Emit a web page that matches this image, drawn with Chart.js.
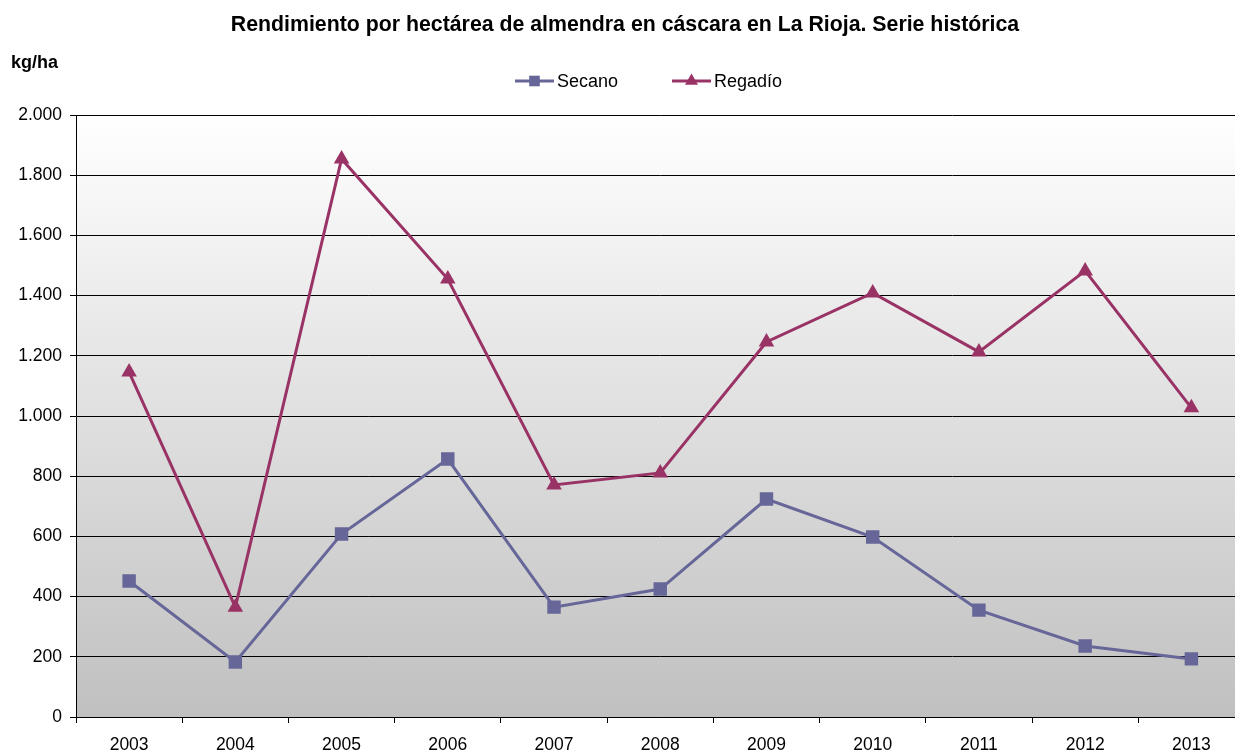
<!DOCTYPE html>
<html>
<head>
<meta charset="utf-8">
<script src="https://cdn.jsdelivr.net/npm/chart.js@4"></script>
<style>
  html, body { margin: 0; padding: 0; background: #fff; overflow: hidden; }
  #wrap { width: 1235px; height: 751px; overflow: hidden; }
</style>
</head>
<body>
<div id="wrap"><canvas id="chart" width="1254" height="772"></canvas></div>
<script>
// Rendimiento por hectárea de almendra en cáscara - La Rioja
const years = ['2003', '2004', '2005', '2006', '2007', '2008', '2009', '2010', '2011', '2012', '2013'];
const secano = [452, 183, 608, 857, 365, 425, 724, 598, 355, 236, 193];
const regadio = [1146, 365, 1854, 1455, 771, 811, 1246, 1409, 1213, 1482, 1027];

const SECANO_COLOR = '#666699';
const REGADIO_COLOR = '#993366';
const FONT = '"Liberation Sans", Arial, sans-serif';

const fmt = v => String(v).replace(/\B(?=(\d{3})+(?!\d))/g, '.');

// gradient plot background + title, unit label and legend
const decor = {
    id: 'decor',
    beforeDraw(chart) {
        const { ctx, chartArea: a } = chart;
        const g = ctx.createLinearGradient(0, a.top, 0, a.bottom);
        g.addColorStop(0, '#ffffff');
        g.addColorStop(1, '#c0c0c0');
        ctx.save();
        ctx.fillStyle = g;
        ctx.fillRect(a.left, a.top, a.right - a.left, a.bottom - a.top);
        ctx.restore();
    },
    afterDraw(chart) {
        const { ctx } = chart;
        ctx.save();
        ctx.fillStyle = '#000';
        ctx.textBaseline = 'middle';
        ctx.font = 'bold 21.3px ' + FONT;
        ctx.textAlign = 'center';
        ctx.fillText('Rendimiento por hectárea de almendra en cáscara en La Rioja. Serie histórica', 625, 25);
        ctx.textAlign = 'left';
        ctx.font = 'bold 18px ' + FONT;
        ctx.fillText('kg/ha', 11, 63);

        const items = [
            { x: 515, text: 'Secano', color: SECANO_COLOR, style: 'rect', r: 7.5 },
            { x: 672, text: 'Regadío', color: REGADIO_COLOR, style: 'triangle', r: 7.5 }
        ];
        ctx.font = '18px ' + FONT;
        items.forEach(it => {
            ctx.strokeStyle = it.color;
            ctx.lineWidth = 3;
            ctx.beginPath();
            ctx.moveTo(it.x, 81);
            ctx.lineTo(it.x + 39, 81);
            ctx.stroke();
            ctx.fillStyle = it.color;
            Chart.helpers.drawPoint(ctx, { pointStyle: it.style, radius: it.r, borderWidth: 0 }, it.x + 19.5, 81);
            ctx.fillStyle = '#000';
            ctx.fillText(it.text, it.x + 42, 82);
        });
        ctx.restore();
    }
};

new Chart(document.getElementById('chart'), {
    type: 'line',
    data: {
        labels: years,
        datasets: [
            {
                label: 'Secano',
                data: secano,
                borderColor: SECANO_COLOR,
                backgroundColor: SECANO_COLOR,
                borderWidth: 3,
                pointStyle: 'rect',
                pointRadius: 9.5,
                pointBorderWidth: 0,
                tension: 0
            },
            {
                label: 'Regadío',
                data: regadio,
                borderColor: REGADIO_COLOR,
                backgroundColor: REGADIO_COLOR,
                borderWidth: 3,
                pointStyle: 'triangle',
                pointRadius: 9,
                pointBorderWidth: 0,
                tension: 0
            }
        ]
    },
    options: {
        responsive: false,
        animation: false,
        layout: { padding: { top: 115, right: 5, left: 0, bottom: 4 } },
        plugins: {
            legend: { display: false },
            title: { display: false },
            tooltip: { enabled: false }
        },
        scales: {
            x: {
                offset: true,
                grid: {
                    offset: true,
                    drawOnChartArea: false,
                    color: '#000',
                    tickLength: 6,
                    tickColor: '#000'
                },
                border: { color: '#000', width: 1 },
                ticks: {
                    color: '#000',
                    padding: 12,
                    maxRotation: 0,
                    font: { family: FONT, size: 17.5 }
                }
            },
            y: {
                min: 0,
                max: 2000,
                afterFit(scale) { scale.width = 76; },
                grid: {
                    color: '#000',
                    lineWidth: 1,
                    tickLength: 6,
                    tickColor: '#000'
                },
                border: { color: '#000', width: 1 },
                ticks: {
                    stepSize: 200,
                    color: '#000',
                    padding: 8,
                    callback: v => fmt(v),
                    font: { family: FONT, size: 17.5 }
                }
            }
        }
    },
    plugins: [decor]
});
</script>
</body>
</html>
